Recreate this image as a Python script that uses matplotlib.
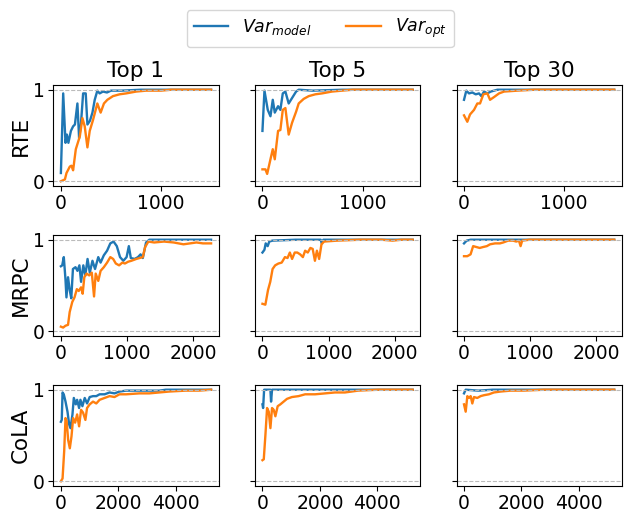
import numpy as np
import matplotlib.pyplot as plt

tasks = ["RTE", "MRPC", "CoLA"]
tops = ["Top 1", "Top 5", "Top 30"]
x_end = [1500, 2270, 5230]
x_ticks = [[0, 1000], [0, 1000, 2000], [0, 2000, 4000]]

# RTE
rte1_model_x = [0, 23, 46, 60, 75, 100, 122, 140, 165, 182, 200, 222, 248, 265, 290, 315, 338, 364, 387, 420, 460, 500, 600, 800, 1000, 1500]
rte1_model_y = [0.09, 0.96, 0.42, 0.51, 0.42, 0.55, 0.60, 0.62, 0.85, 0.47, 0.62, 0.96, 0.96, 0.62, 0.66, 0.75, 0.89, 0.99, 0.96, 0.98, 0.97, 0.99, 0.99, 1.0, 1.0, 1.0]
rte1_opt_x = [0, 40, 56, 89, 105, 122, 149, 189, 215, 238, 265, 288, 321, 364, 397, 430, 464, 520, 586, 652, 752, 851, 1000, 1100, 1500]
rte1_opt_y = [0.0, 0.02, 0.09, 0.16, 0.17, 0.12, 0.35, 0.49, 0.69, 0.60, 0.37, 0.55, 0.67, 0.85, 0.75, 0.85, 0.89, 0.93, 0.95, 0.96, 0.98, 0.99, 0.99, 1.0, 1.0]
rte5_model_x = [0, 20, 53, 80, 103, 123, 156, 179, 203, 229, 262, 296, 336, 362, 500, 800, 1500]
rte5_model_y = [0.55, 0.99, 0.78, 0.71, 0.89, 0.75, 0.82, 0.78, 0.96, 0.98, 0.85, 0.91, 0.98, 1.0, 0.99, 1.0, 1.0]
rte5_opt_x = [0, 30, 47, 80, 103, 123, 156, 179, 203, 229, 262, 296, 336, 362, 412, 462, 528, 595, 694, 794, 900, 1500]
rte5_opt_y = [0.13, 0.13, 0.08, 0.24, 0.35, 0.24, 0.55, 0.56, 0.78, 0.80, 0.51, 0.64, 0.76, 0.85, 0.90, 0.93, 0.95, 0.96, 0.98, 0.99, 1.0, 1.0]
rte30_model_x = [0, 23, 50, 83, 117, 150, 173, 200, 233, 267, 333, 600, 1500]
rte30_model_y = [0.89, 0.99, 0.96, 0.97, 0.95, 0.96, 0.93, 0.98, 0.96, 0.98, 1.0, 1.0, 1.0]
rte30_opt_x = [0, 33, 60, 100, 133, 160, 193, 233, 260, 300, 350, 400, 533, 700, 1500]
rte30_opt_y = [0.72, 0.65, 0.73, 0.78, 0.85, 0.85, 0.95, 0.96, 0.89, 0.92, 0.96, 0.98, 0.99, 1.0, 1.0]

# MRPC
mrpc1_model_x = [0, 20, 44, 69, 84, 108, 133, 157, 182, 221, 250, 280, 305, 339, 369, 403, 437, 477, 516, 565, 600, 649, 698, 747, 796, 845, 894, 944, 993, 1027, 1057, 1115, 1165, 1204, 1238, 1287, 1337, 1800, 2270]
mrpc1_model_y = [0.71, 0.72, 0.81, 0.57, 0.37, 0.59, 0.45, 0.36, 0.68, 0.70, 0.66, 0.72, 0.54, 0.72, 0.61, 0.79, 0.64, 0.77, 0.68, 0.81, 0.75, 0.83, 0.88, 0.96, 0.98, 0.93, 0.81, 0.77, 0.81, 0.93, 0.80, 0.79, 0.81, 0.84, 0.80, 0.97, 1.0, 1.0, 1.0]
mrpc1_opt_x = [0, 34, 69, 108, 133, 172, 206, 241, 270, 305, 329, 354, 388, 428, 467, 501, 526, 565, 600, 649, 698, 747, 790, 830, 880, 929, 968, 1017, 1066, 1140, 1189, 1238, 1273, 1322, 1410, 1558, 1705, 1853, 1951, 2049, 2147, 2270]
mrpc1_opt_y = [0.05, 0.04, 0.06, 0.07, 0.21, 0.32, 0.37, 0.46, 0.44, 0.48, 0.41, 0.59, 0.63, 0.61, 0.64, 0.38, 0.63, 0.55, 0.66, 0.70, 0.75, 0.81, 0.79, 0.74, 0.72, 0.75, 0.74, 0.76, 0.77, 0.79, 0.80, 0.81, 0.92, 0.98, 0.97, 0.98, 0.97, 0.95, 0.96, 0.97, 0.96, 0.96]
mrpc5_model_x = [0, 30, 49, 79, 103, 150, 500, 880, 896, 920, 1500, 2270]
mrpc5_model_y = [0.86, 0.89, 0.96, 0.93, 0.98, 0.99, 1.0, 1.0, 0.96, 1.0, 1.0, 1.0]
mrpc5_opt_x = [0, 44, 84, 118, 153, 192, 241, 291, 340, 379, 414, 448, 488, 527, 570, 611, 645, 685, 724, 759, 793, 823, 857, 892, 931, 1128, 1473, 1800, 1966, 2100, 2270]
mrpc5_opt_y = [0.30, 0.29, 0.45, 0.54, 0.68, 0.72, 0.74, 0.75, 0.81, 0.80, 0.86, 0.79, 0.86, 0.86, 0.84, 0.81, 0.88, 0.86, 0.91, 0.90, 0.77, 0.88, 0.79, 0.95, 0.98, 0.99, 1.0, 1.0, 0.99, 1.0, 1.0]
mrpc30_model_x = [0, 40, 100, 1000, 2270]
mrpc30_model_y = [0.96, 0.99, 1.0, 1.0, 1.0]
mrpc30_opt_x = [0, 49, 99, 138, 188, 237, 287, 345, 394, 469, 543, 593, 667, 741, 790, 830, 855, 879, 988, 1500, 2270]
mrpc30_opt_y = [0.82, 0.82, 0.84, 0.93, 0.92, 0.91, 0.92, 0.93, 0.95, 0.96, 0.96, 0.97, 0.99, 0.99, 0.98, 0.99, 0.93, 0.99, 1.0, 1.0, 1.0]

# CoLA
cola1_model_x = [0, 30, 58, 100, 161, 230, 288, 334, 403, 450, 519, 565, 634, 680, 749, 830, 911, 1003, 1118, 1233, 1349, 1522, 1695, 1867, 2040, 2271, 2501, 2732, 3078, 3424, 3654, 5230]
cola1_model_y = [0.65, 0.67, 0.97, 0.95, 0.87, 0.76, 0.62, 0.58, 0.73, 0.91, 0.84, 0.89, 0.80, 0.89, 0.82, 0.91, 0.85, 0.92, 0.93, 0.93, 0.95, 0.95, 0.97, 0.96, 0.98, 0.99, 0.99, 0.99, 0.99, 0.99, 1.0, 1.0]
cola1_opt_x = [0, 58, 115, 161, 200, 253, 311, 369, 427, 496, 565, 634, 703, 772, 853, 911, 1003, 1118, 1233, 1349, 1522, 1695, 1867, 2040, 2271, 2732, 3078, 3424, 3770, 4346, 4807, 5230]
cola1_opt_y = [0.0, 0.03, 0.33, 0.69, 0.66, 0.45, 0.36, 0.49, 0.69, 0.64, 0.73, 0.60, 0.78, 0.75, 0.67, 0.80, 0.84, 0.87, 0.85, 0.89, 0.91, 0.93, 0.92, 0.95, 0.95, 0.96, 0.96, 0.97, 0.98, 0.99, 0.99, 1.0]
cola5_model_x = [0, 23, 58, 277, 300, 334, 5230]
cola5_model_y = [0.84, 0.80, 1.0, 1.0, 0.87, 1.0, 1.0]
cola5_opt_x = [0, 46, 104, 161, 219, 277, 334, 392, 450, 530, 623, 738, 853, 1026, 1257, 1487, 1833, 2179, 2525, 2870, 3331, 4023, 5230]
cola5_opt_y = [0.23, 0.24, 0.51, 0.80, 0.76, 0.58, 0.80, 0.78, 0.71, 0.82, 0.84, 0.87, 0.90, 0.92, 0.93, 0.95, 0.95, 0.96, 0.97, 0.97, 0.99, 1.0, 1.0]
cola30_model_x = [0, 58, 500, 1000, 5230]
cola30_model_y = [0.96, 1.0, 0.99, 1.0, 1.0]
cola30_opt_x = [0, 58, 116, 173, 231, 289, 347, 462, 578, 694, 867, 1040, 1272, 1618, 2080, 2775, 5230]
cola30_opt_y = [0.84, 0.76, 0.93, 0.91, 0.93, 0.85, 0.92, 0.91, 0.93, 0.94, 0.95, 0.97, 0.98, 0.99, 0.99, 1.0, 1.0]

series = [
    [(rte1_model_x, rte1_model_y, rte1_opt_x, rte1_opt_y),
     (rte5_model_x, rte5_model_y, rte5_opt_x, rte5_opt_y),
     (rte30_model_x, rte30_model_y, rte30_opt_x, rte30_opt_y)],
    [(mrpc1_model_x, mrpc1_model_y, mrpc1_opt_x, mrpc1_opt_y),
     (mrpc5_model_x, mrpc5_model_y, mrpc5_opt_x, mrpc5_opt_y),
     (mrpc30_model_x, mrpc30_model_y, mrpc30_opt_x, mrpc30_opt_y)],
    [(cola1_model_x, cola1_model_y, cola1_opt_x, cola1_opt_y),
     (cola5_model_x, cola5_model_y, cola5_opt_x, cola5_opt_y),
     (cola30_model_x, cola30_model_y, cola30_opt_x, cola30_opt_y)],
]

fig, axes = plt.subplots(3, 3, figsize=(6.28, 5.13), dpi=100, sharey=True)
fig.subplots_adjust(left=0.085, right=0.99, top=0.834, bottom=0.053,
                    wspace=0.22, hspace=0.49)

for i in range(3):
    for j in range(3):
        ax = axes[i, j]
        mx, my, ox, oy = series[i][j]
        l1, = ax.plot(mx, my, color='tab:blue', lw=1.7)
        l2, = ax.plot(ox, oy, color='tab:orange', lw=1.7)
        ax.axhline(0, color='#bbbbbb', ls='--', lw=0.8)
        ax.axhline(1, color='#bbbbbb', ls='--', lw=0.8)
        span = x_end[i]
        ax.set_xlim(-0.05 * span, 1.05 * span)
        ax.set_xticks(x_ticks[i])
        ax.set_yticks([0, 1])
        ax.tick_params(labelsize=13.5, pad=2.5)
        if i == 0:
            ax.set_title(tops[j], fontsize=15.5)
        if j == 0:
            ax.set_ylabel(tasks[i], fontsize=15.5, labelpad=2)

axes[0, 0].set_ylim(-0.05, 1.05)
fig.legend([l1, l2], [r'$Var_{model}$', r'$Var_{opt}$'], loc='upper center',
           ncol=2, bbox_to_anchor=(0.51, 0.997), fontsize=12.5)

plt.savefig("out.png")
